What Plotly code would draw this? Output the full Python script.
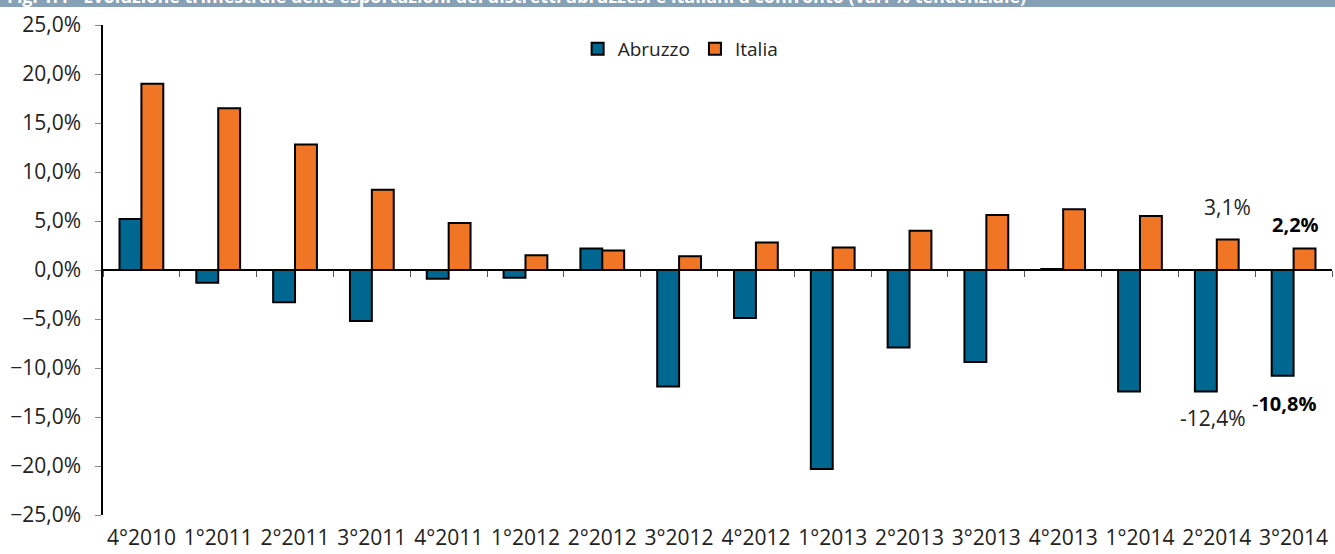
import plotly.graph_objects as go

categories = ["4°2010", "1°2011", "2°2011", "3°2011", "4°2011", "1°2012", "2°2012", "3°2012",
              "4°2012", "1°2013", "2°2013", "3°2013", "4°2013", "1°2014", "2°2014", "3°2014"]
abruzzo = [5.2, -1.3, -3.3, -5.2, -0.9, -0.8, 2.2, -11.9, -4.9, -20.3, -7.9, -9.4, 0.1, -12.4, -12.4, -10.8]
italia = [19.0, 16.5, 12.8, 8.2, 4.8, 1.5, 2.0, 1.4, 2.8, 2.3, 4.0, 5.6, 6.2, 5.5, 3.1, 2.2]
title_text = ("Fig. 1.4 - Evoluzione trimestrale delle esportazioni dei distretti abruzzesi "
              "e italiani a confronto (var. % tendenziale)")

FONT = "Open Sans"
TXT = "#222222"

fig = go.Figure()
fig.add_trace(go.Bar(x=categories, y=abruzzo, name="Abruzzo",
                     marker=dict(color="#006890", line=dict(color="black", width=2))))
fig.add_trace(go.Bar(x=categories, y=italia, name="Italia",
                     marker=dict(color="#F07524", line=dict(color="black", width=2))))
# invisible trace for the zero-line axis
fig.add_trace(go.Scatter(x=categories, y=[0] * len(categories), xaxis="x2", mode="none",
                         showlegend=False, hoverinfo="skip"))

# value labels for the last two quarters
fig.add_annotation(x=categories[14], y=italia[14], text="3,1%", showarrow=False,
                   xshift=11, yshift=33, font=dict(size=21, color=TXT, family=FONT))
fig.add_annotation(x=categories[15], y=italia[15], text="<b>2,2%</b>", showarrow=False,
                   xshift=2, yshift=24, font=dict(size=20, color="black", family=FONT))
fig.add_annotation(x=categories[14], y=abruzzo[14], text="-12,4%", showarrow=False,
                   xshift=-4, yshift=-26, font=dict(size=21, color=TXT, family=FONT))
fig.add_annotation(x=categories[15], y=abruzzo[15], text="-<b>10,8%</b>", showarrow=False,
                   xshift=-10, yshift=-28, font=dict(size=20, color="black", family=FONT))

# title banner (cut off at top, as in the source)
fig.add_shape(type="rect", xref="paper", yref="paper", x0=-0.2, x1=1.2,
              y0=1 + 18 / 492, y1=1 + 40 / 492, fillcolor="#86A0B5", line=dict(width=0), layer="above")
fig.add_annotation(xref="paper", yref="paper", x=-103 / 1229 + 5 / 1229, y=1 + 29 / 492,
                   xanchor="left", yanchor="middle", text="<b>" + title_text + "</b>", showarrow=False,
                   font=dict(size=18, color="white", family=FONT))

fig.update_layout(
    width=1335, height=554,
    margin=dict(l=103, r=3, t=25, b=37),
    paper_bgcolor="white", plot_bgcolor="white",
    barmode="group", bargap=0.43, bargroupgap=0,
    separators=",.",
    font=dict(family=FONT, size=21, color=TXT),
    legend=dict(orientation="h", x=0.47, xanchor="center", y=0.99, yanchor="top",
                font=dict(size=19, color=TXT), itemwidth=30, bgcolor="rgba(0,0,0,0)",
                tracegroupgap=0),
    xaxis=dict(type="category", categoryorder="array", categoryarray=categories,
               showline=False, ticks="", showgrid=False, zeroline=False,
               tickfont=dict(size=21, color=TXT), ticklabelstandoff=8),
    xaxis2=dict(type="category", categoryorder="array", categoryarray=categories,
                matches="x", overlaying="x", anchor="free", position=0.5,
                showline=True, linecolor="black", linewidth=1.5,
                ticks="outside", tickson="boundaries", ticklen=6, tickcolor="#555555",
                showticklabels=False, showgrid=False),
    yaxis=dict(range=[-25, 25], dtick=5, tickformat=".1f", ticksuffix="%",
               showline=True, linecolor="black", linewidth=1.5,
               ticks="outside", ticklen=6, tickcolor="#888888", ticklabelstandoff=10,
               showgrid=False, zeroline=False, tickfont=dict(size=21, color=TXT)),
)

fig.write_html("out.html", config={"displayModeBar": False},
               post_script="document.body.style.margin='0';")
